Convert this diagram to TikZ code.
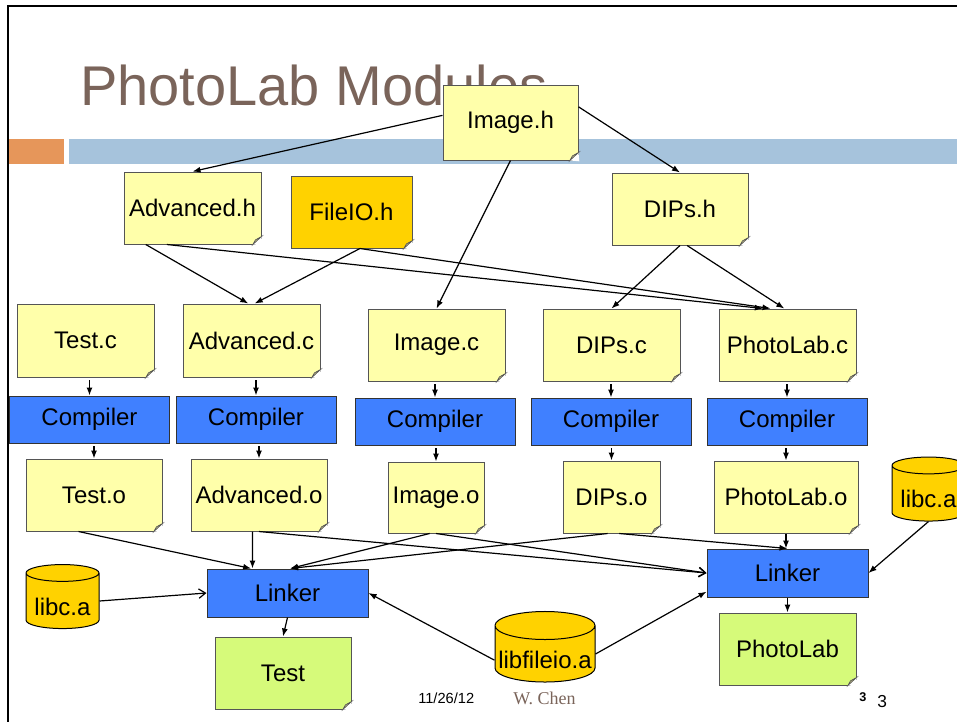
\documentclass[tikz,border=0pt]{standalone}
\usepackage{fontspec}
\setmainfont{Liberation Sans}
\newfontfamily\timesfont{Liberation Serif}
\usetikzlibrary{shapes.geometric}
\usetikzlibrary{arrows.meta}
\definecolor{noteyel}{RGB}{255,255,170}
\definecolor{notegreen}{RGB}{214,250,122}
\definecolor{notebd}{RGB}{85,85,85}
\definecolor{foldtan}{RGB}{222,214,150}
\definecolor{gold}{RGB}{255,210,0}
\definecolor{toolblue}{RGB}{64,128,255}
\definecolor{titlecol}{RGB}{122,100,90}
\definecolor{barblue}{RGB}{166,195,220}
\definecolor{barorange}{RGB}{230,150,90}
\tikzset{%
  filledarrow/.style = {-{Latex[length=6pt,width=4.5pt]},line width=0.9pt},
  openarrow/.style = {-{Straight Barb[length=5pt,width=7pt]},line width=0.9pt},
  note/.style = {rectangle,draw=notebd,fill=noteyel,line width=0.75pt,
        minimum width=102.75pt,minimum height=54pt,inner sep=0pt},
  tool/.style = {rectangle,draw=black!80,fill=toolblue,line width=0.75pt,
        minimum width=120pt,minimum height=35.25pt,inner sep=0pt},
  lib/.style = {cylinder,shape border rotate=90,aspect=0.3,draw=black,
        fill=gold,line width=0.75pt,minimum width=54.75pt,
        minimum height=48pt,inner sep=0pt,text height=21pt,text depth=0pt}
}

\begin{document}
\begin{tikzpicture}[x=0.75pt,y=-0.75pt,font=\fontsize{18}{20}\selectfont]
   \useasboundingbox (0,0) rectangle (957,722);
   \clip (0,0) rectangle (957,722);

   % slide frame, title and bar
   \draw[line width=1.5pt] (957,6) -- (7.5,6) -- (7.5,722);
   \fill[barorange] (9,139) rectangle (64,164);
   \fill[barblue] (69,139) rectangle (957,164);
   \node[anchor=base west,inner sep=0pt,text=titlecol,
         font=\fontsize{42}{46}\selectfont] (title) at (80,105) {PhotoLab Modules};

   % headers
   \node[note,minimum width=101.25pt,minimum height=56.25pt] (imgh) at (510.5,122.5) {Image.h};
   \node[note] (advh) at (192.5,208) {Advanced.h};
   \node[note,fill=gold,minimum width=90.75pt] (fileioh) at (351.5,212) {FileIO.h};
   \node[note,minimum width=102pt] (dipsh) at (680,209) {DIPs.h};

   % sources
   \node[note,minimum height=54.75pt] (testc) at (85.5,340.5) {Test.c};
   \node[note,minimum height=54.75pt] (advc) at (251.5,340.5) {Advanced.c};
   \node[note] (imgc) at (436.5,345) {Image.c};
   \node[note] (dipsc) at (611.5,345) {DIPs.c};
   \node[note] (photoc) at (787.5,345) {PhotoLab.c};

   % compilers
   \node[tool] (comp1) at (89.5,419.5) {Compiler};
   \node[tool] (comp2) at (256,419.5) {Compiler};
   \node[tool] (comp3) at (435,421.5) {Compiler};
   \node[tool] (comp4) at (611,421.5) {Compiler};
   \node[tool] (comp5) at (787,421.5) {Compiler};

   % objects
   \node[note,minimum width=102pt] (testo) at (94,495) {Test.o};
   \node[note,minimum width=102pt] (advo) at (259,495) {Advanced.o};
   \node[note,minimum width=72pt,minimum height=53.25pt] (imgo) at (436,497.5) {Image.o};
   \node[note,minimum width=72.75pt] (dipso) at (611.5,497) {DIPs.o};
   \node[note,minimum width=108pt] (photoo) at (786,497) {PhotoLab.o};

   % libraries, linkers, programs
   \node[lib] (libcl) at (62.5,601) {libc.a};
   \node[lib] (libcr) at (928.5,493.5) {libc.a};
   \node[lib,minimum width=75pt] (libfio) at (545,654) {libfileio.a};
   \node[tool,minimum width=120.75pt,minimum height=36pt] (linkl) at (287.5,593) {Linker};
   \node[tool,minimum width=120.75pt,minimum height=36pt] (linkr) at (787.5,573) {Linker};
   \node[note,fill=notegreen,minimum width=102pt] (testx) at (283,673) {Test};
   \node[note,fill=notegreen] (photox) at (787.5,649) {PhotoLab};

   % folded corners
   \foreach \n in {imgh,advh,fileioh,dipsh,testc,advc,imgc,dipsc,photoc,
                   testo,advo,imgo,dipso,photoo,testx,photox} {
      \fill[white] ([shift={(0.6pt,-0.6pt)}]\n.south east) -- ([xshift=-6.5pt]\n.south east)
         -- ([yshift=6pt]\n.south east) -- cycle;
      \filldraw[fill=foldtan,draw=notebd,line width=0.5pt] ([xshift=-6.5pt]\n.south east)
         -- ([shift={(-4.5pt,3.5pt)}]\n.south east) -- ([yshift=6pt]\n.south east) -- cycle;
   }

   % footer
   \node[anchor=base west,inner sep=0pt,font=\fontsize{11}{13}\selectfont] (date) at (418,703) {11/26/12};
   \node[anchor=base west,inner sep=0pt,text=titlecol,
         font=\timesfont\fontsize{13.5}{15}\selectfont] (author) at (513,704) {W. Chen};
   \node[anchor=base west,inner sep=0pt,font=\bfseries\fontsize{9.5}{11}\selectfont] (pagebold) at (859,701) {3};
   \node[anchor=base west,inner sep=0pt,font=\fontsize{13}{15}\selectfont] (page) at (877,707) {3};

   % includes
   \draw[filledarrow] (imgh.174) -- (advh.north);
   \draw[filledarrow] (imgh.13) -- (dipsh.north);
   \draw[filledarrow] (imgh.south) -- (imgc.north);
   \draw[filledarrow] (advh.218) -- (advc.95);
   \draw[filledarrow] (fileioh.283) -- (advc.85);
   \draw[filledarrow] (advh.235) -- (photoc.124);
   \draw[filledarrow] (fileioh.283) -- (photoc.115);
   \draw[filledarrow] (dipsh.south) -- (dipsc.north);
   \draw[filledarrow] (dipsh.281) -- (photoc.95);

   % compiling
   \foreach \c/\k/\o in {testc/comp1/testo,advc/comp2/advo,imgc/comp3/imgo,
                         dipsc/comp4/dipso,photoc/comp5/photoo} {
      \draw[filledarrow,shorten <=2pt] (\k.north |- \c.south) -- (\k.north);
      \draw[filledarrow,shorten <=2pt] (\o.north |- \k.south) -- (\o.north);
   }

   % linking Test
   \draw[filledarrow] (testo.247) -- (linkl.146);
   \draw[filledarrow] (advo.260) -- (linkl.145);
   \draw[filledarrow] (imgo.260) -- (linkl.84);
   \draw[filledarrow] (dipso.264) -- (linkl.84);
   \draw[openarrow] (libcl.east) -- (linkl.west);
   \draw[filledarrow] (libfio.187) -- (linkl.east);
   \draw[filledarrow] (linkl.south) -- (testx.north);

   % linking PhotoLab
   \draw[openarrow] (advo.south) -- (linkr.west);
   \draw[openarrow] (imgo.south) -- (linkr.west);
   \draw[filledarrow] (dipso.282) -- (linkr.north);
   \draw[filledarrow] (photoo.south) -- (photoo.south |- linkr.north);
   \draw[filledarrow] (libcr.south) -- (linkr.east);
   \draw[filledarrow] (libfio.east) -- (linkr.193);
   \draw[filledarrow] (linkr.south) -- (photox.north);
\end{tikzpicture}
\end{document}
